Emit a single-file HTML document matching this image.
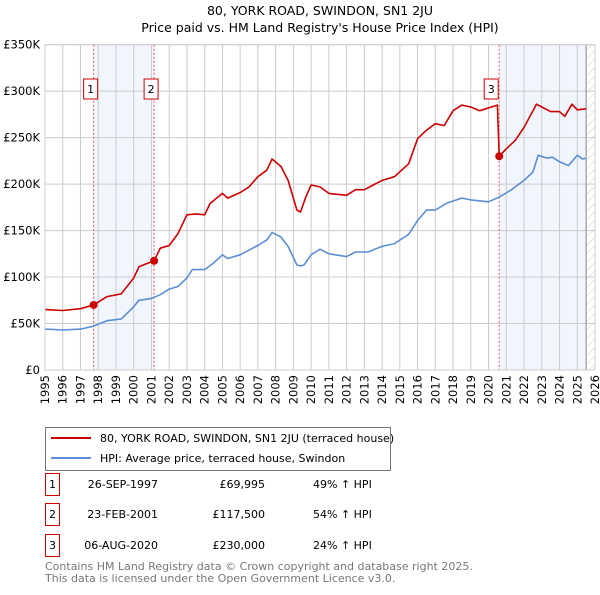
<!DOCTYPE html>
<html><head><meta charset="utf-8"><style>
body{margin:0;background:#fff;font-family:"Liberation Sans","DejaVu Sans",sans-serif;}
</style></head><body>
<svg width="600" height="590" xmlns="http://www.w3.org/2000/svg" font-family="DejaVu Sans, Liberation Sans, sans-serif">
<defs><pattern id="hatch" width="6" height="6" patternUnits="userSpaceOnUse" patternTransform="rotate(45)"><line x1="0" y1="0" x2="0" y2="6" stroke="#ccc" stroke-width="1"/></pattern></defs>
<text x="320" y="15" text-anchor="middle" font-size="12.5">80, YORK ROAD, SWINDON, SN1 2JU</text>
<text x="320" y="32" text-anchor="middle" font-size="12.5">Price paid vs. HM Land Registry's House Price Index (HPI)</text>
<g id="plot"></g>
<g>
<rect x="45.5" y="427.5" width="345" height="43" fill="#fff" stroke="#777"/>
<line x1="51" y1="438" x2="91" y2="438" stroke="#cc0000" stroke-width="2"/>
<text x="100" y="442" font-size="11">80, YORK ROAD, SWINDON, SN1 2JU (terraced house)</text>
<line x1="51" y1="458" x2="91" y2="458" stroke="#5b8ed6" stroke-width="2"/>
<text x="100" y="462" font-size="11">HPI: Average price, terraced house, Swindon</text>
</g>
<g id="table" font-size="11"></g>
<text x="45" y="570" font-size="11" fill="#777">Contains HM Land Registry data © Crown copyright and database right 2025.</text>
<text x="45" y="582" font-size="11" fill="#777">This data is licensed under the Open Government Licence v3.0.</text>
</svg>
<script>
const hpiYears=[1995,1996,1997,1997.7,1998.5,1999.3,2000,2000.3,2001,2001.5,2002,2002.5,2003,2003.3,2004,2004.5,2005,2005.3,2006,2006.5,2007,2007.5,2007.8,2008.3,2008.7,2009.2,2009.4,2009.6,2010,2010.5,2011,2012,2012.5,2013.2,2014,2014.7,2015.5,2016,2016.5,2017,2017.7,2018.5,2019,2020,2020.6,2021.3,2022,2022.5,2022.8,2023.3,2023.6,2024,2024.5,2025,2025.3,2025.5];
const hpiValues=[44,43,44,47,53,55,68,75,77,81,87,90,99,108,108,115,124,120,124,129,134,140,148,143,133,113,112,113,124,130,125,122,127,127,133,136,146,161,172,172,180,185,183,181,186,194,204,213,231,228,229,224,220,231,227,228];
const priceYears=[1995,1996,1997,1997.74,1998.5,1999.3,2000,2000.3,2000.8,2001.15,2001.5,2002,2002.5,2003,2003.5,2004,2004.3,2005,2005.3,2006,2006.5,2007,2007.5,2007.8,2008.3,2008.7,2009.2,2009.4,2009.7,2010,2010.5,2011,2012,2012.5,2013,2013.5,2014,2014.7,2015.5,2016,2016.5,2017,2017.5,2018,2018.5,2019,2019.5,2020.5,2020.6,2021,2021.5,2022,2022.7,2023,2023.5,2024,2024.3,2024.7,2025,2025.5];
const priceValues=[65,64,66,70,79,82,99,111,115,117.5,131,134,147,167,168,167,179,190,185,191,197,208,215,227,219,204,172,170,186,199,197,190,188,194,194,199,204,208,222,249,258,265,263,279,285,283,279,285,230,238,247,261,286,283,278,278,273,286,280,281];
const saleLabels=["1","2","3"];
const saleYears=[1997.74,2001.15,2020.6];
const saleValues=[69.995,117.5,230];
const saleDates=["26-SEP-1997","23-FEB-2001","06-AUG-2020"];
const salePrices=["£69,995","£117,500","£230,000"];
const salePcts=["49% ↑ HPI","54% ↑ HPI","24% ↑ HPI"];
const yTicks=[0,50,100,150,200,250,300,350];
const yTickLabels=["£0","£50K","£100K","£150K","£200K","£250K","£300K","£350K"];
const xTicks=[];for(let y=1995;y<=2026;y++)xTicks.push(y);

const X0=45,X1=595,Y0=370,Y1=44.7;
const xs=v=>X0+(v-1995)*(X1-X0)/31;
const ys=v=>Y0-v*(Y0-Y1)/350;
const NS="http://www.w3.org/2000/svg";
const plot=document.getElementById('plot');
function mk(tag,attrs,parent){const e=document.createElementNS(NS,tag);for(const k in attrs)e.setAttribute(k,attrs[k]);(parent||plot).appendChild(e);return e;}
let s1=mk('rect',{x:xs(saleYears[0]),y:Y1,width:xs(saleYears[1])-xs(saleYears[0]),height:Y0-Y1,fill:'#eef3fc',opacity:0.8});


let s2=mk('rect',{x:xs(saleYears[2]),y:Y1,width:xs(2025.5)-xs(saleYears[2]),height:Y0-Y1,fill:'#eef3fc',opacity:0.8});


let hz=mk('rect',{x:xs(2025.5),y:Y1,width:X1-xs(2025.5),height:Y0-Y1,fill:'url(#hatch)'});


xTicks.forEach(t=>{let l=mk('line',{x1:xs(t),x2:xs(t),y1:Y1,y2:Y0,stroke:'#ccc','stroke-width':1});


let tx=mk('text',{x:0,y:0,'font-size':11.5,'text-anchor':'end',transform:`translate(${xs(t)+4},${Y0+5}) rotate(-90)`});tx.textContent=t;

});
yTicks.forEach((t,i)=>{let l=mk('line',{x1:X0,x2:X1,y1:ys(t),y2:ys(t),stroke:'#ccc','stroke-width':1});


let tx=mk('text',{x:40,y:ys(t)+4,'font-size':11.5,'text-anchor':'end'});tx.textContent=yTickLabels[i];

});
let vl=mk('line',{x1:xs(2025.5),x2:xs(2025.5),y1:Y1,y2:Y0,stroke:'#888','stroke-width':1});


saleYears.forEach((y,i)=>{let l=mk('line',{x1:xs(y),x2:xs(y),y1:Y1,y2:Y0,stroke:'#e55','stroke-width':1,'stroke-dasharray':'2,2'});

});
function path(xa,va,col,name){let d=xa.map((x,i)=>(i?'L':'M')+xs(x).toFixed(1)+','+ys(va[i]).toFixed(1)).join('');
let p=mk('path',{d:d,fill:'none',stroke:col,'stroke-width':1.6,'stroke-linejoin':'round'});

}
path(hpiYears,hpiValues,'#5b8ed6','hpi-line');
path(priceYears,priceValues,'#cc0000','price-paid-line');
saleYears.forEach((y,i)=>{let c=mk('circle',{cx:xs(y),cy:ys(saleValues[i]),r:4,fill:'#cc0000'});


const bxp=[xs(y)-10,xs(y)-10,xs(y)-15][i];
let g=mk('g',{});


mk('rect',{x:bxp,y:79,width:14,height:20,fill:'#fff',stroke:'#cc0000'},g);
let t=mk('text',{x:bxp+7,y:93,'font-size':11,'text-anchor':'middle'},g);t.textContent=saleLabels[i];});
let frame=mk('rect',{x:X0,y:Y1,width:X1-X0,height:Y0-Y1,fill:'none',stroke:'#ccc'});


const tb=document.getElementById('table');
saleLabels.forEach((lab,i)=>{const yy=[484,514,545][i];
let g=mk('g',{},tb);


mk('rect',{x:45.5,y:yy-10.5,width:14,height:22,fill:'#fff',stroke:'#cc0000'},g);
let t=mk('text',{x:52.5,y:yy+4,'text-anchor':'middle'},g);t.textContent=lab;
t=mk('text',{x:158,y:yy+4,'text-anchor':'end'},g);t.textContent=saleDates[i];
t=mk('text',{x:265,y:yy+4,'text-anchor':'end'},g);t.textContent=salePrices[i];
t=mk('text',{x:313,y:yy+4},g);t.textContent=salePcts[i];});
</script>
</body></html>
